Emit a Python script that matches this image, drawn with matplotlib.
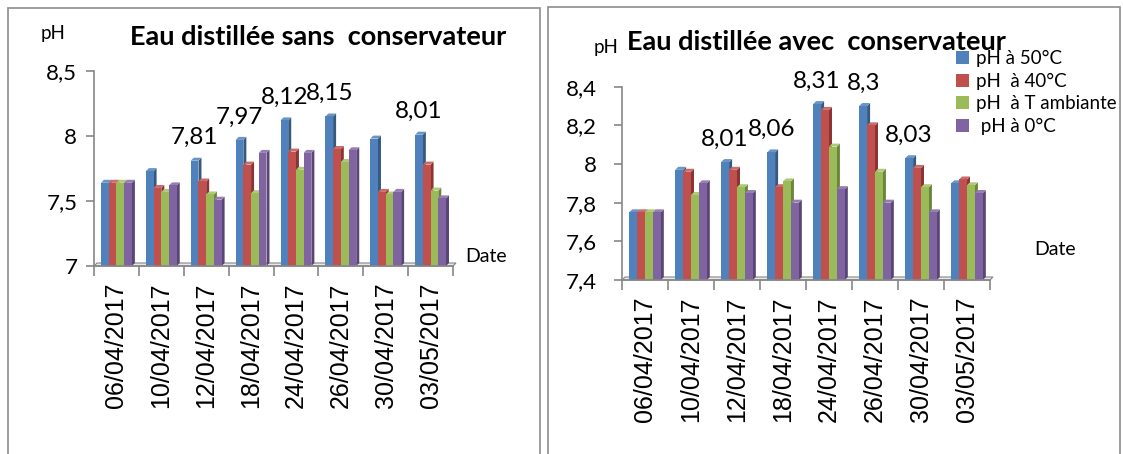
import matplotlib
matplotlib.use("Agg")
import matplotlib.pyplot as plt
from matplotlib.patches import Rectangle, Polygon, Patch
from matplotlib.ticker import FuncFormatter, FixedLocator

plt.rcParams["font.family"] = ["Lato", "DejaVu Sans"]

# ---- data ----------------------------------------------------------------
dates = ["06/04/2017", "10/04/2017", "12/04/2017", "18/04/2017",
         "24/04/2017", "26/04/2017", "30/04/2017", "03/05/2017"]
series_names = ["pH à 50°C", "pH  à 40°C", "pH  à T ambiante", " pH à 0°C"]

# distilled water without preservative
ph50_sans = [7.64, 7.73, 7.81, 7.97, 8.12, 8.15, 7.98, 8.01]
ph40_sans = [7.64, 7.60, 7.65, 7.78, 7.88, 7.90, 7.57, 7.78]
phT_sans = [7.64, 7.57, 7.55, 7.56, 7.74, 7.80, 7.55, 7.58]
ph0_sans = [7.64, 7.62, 7.51, 7.87, 7.87, 7.89, 7.57, 7.52]
labelled_sans = [2, 3, 4, 5, 7]          # groups whose 50°C bar carries its value

# distilled water with preservative
ph50_avec = [7.75, 7.97, 8.01, 8.06, 8.31, 8.30, 8.03, 7.90]
ph40_avec = [7.75, 7.96, 7.97, 7.88, 8.28, 8.20, 7.98, 7.92]
phT_avec = [7.75, 7.84, 7.88, 7.91, 8.09, 7.96, 7.88, 7.89]
ph0_avec = [7.75, 7.90, 7.85, 7.80, 7.87, 7.80, 7.75, 7.85]
labelled_avec = [2, 3, 4, 5, 6]

ticks_sans = [7, 7.5, 8, 8.5]
ticks_avec = [7.4, 7.6, 7.8, 8.0, 8.2, 8.4]

# ---- style ---------------------------------------------------------------
front = ["#4F81BD", "#C0504D", "#9BBB59", "#8064A2"]
side = ["#36597F", "#8A3533", "#6C853D", "#5A4676"]
top = ["#6A94C8", "#CD6B68", "#AECA76", "#957EB3"]
axis_grey = "#868686"

W, H = 1123, 454
fig = plt.figure(figsize=(W / 100, H / 100), dpi=100)


def fx(x):
    return x / W


def fy(y):
    return 1 - y / H


def comma(v, _pos=None):
    return f"{v:g}".replace(".", ",")


DEPTH_PX = 3.0
BAR_W = 0.172


def draw_panel(ax, series, ylim, yticks, labelled, label_fs):
    n = len(dates)
    ymin, ymax = ylim
    ax.set_xlim(-0.5, n - 0.5)
    ax.set_ylim(ymin, ymax)
    bbox = ax.get_position()
    ax_w_px = bbox.width * W
    ax_h_px = bbox.height * H
    dx = DEPTH_PX * n / ax_w_px
    dy = DEPTH_PX * (ymax - ymin) / ax_h_px

    # floor of the 3D box
    ax.add_patch(Polygon([(-0.5, ymin), (n - 0.5, ymin),
                          (n - 0.5 + dx, ymin + dy), (-0.5 + dx, ymin + dy)],
                         closed=True, facecolor="#E8E8E8", edgecolor=axis_grey,
                         lw=0.8, clip_on=False, zorder=1))

    offsets = [(k - 1.5) * BAR_W for k in range(4)]
    for i in range(n):
        for k, vals in enumerate(series):
            x0 = i + offsets[k] - BAR_W / 2
            h = vals[i]
            z = 2 + k * 0.01
            ax.add_patch(Polygon([(x0 + BAR_W, ymin), (x0 + BAR_W + dx, ymin + dy),
                                  (x0 + BAR_W + dx, h + dy), (x0 + BAR_W, h)],
                                 closed=True, facecolor=side[k], edgecolor="none",
                                 zorder=z, clip_on=False))
            ax.add_patch(Polygon([(x0, h), (x0 + dx, h + dy),
                                  (x0 + BAR_W + dx, h + dy), (x0 + BAR_W, h)],
                                 closed=True, facecolor=top[k], edgecolor="none",
                                 zorder=z, clip_on=False))
            ax.bar(x0, h - ymin, bottom=ymin, width=BAR_W, align="edge",
                   color=front[k], edgecolor="none", zorder=z)
    for i in labelled:
        v = series[0][i]
        xc = i + offsets[0]
        ax.annotate(comma(v), (xc, v), xytext=(0, 9), textcoords="offset points",
                    ha="center", va="bottom", fontsize=label_fs, color="black",
                    zorder=5, annotation_clip=False)

    for s in ("top", "right"):
        ax.spines[s].set_visible(False)
    for s in ("left", "bottom"):
        ax.spines[s].set_color(axis_grey)
        ax.spines[s].set_linewidth(1.2)
    ax.yaxis.set_major_locator(FixedLocator(yticks))
    ax.yaxis.set_major_formatter(FuncFormatter(comma))
    ax.tick_params(axis="y", length=6, width=1.2, color=axis_grey,
                   labelsize=16, pad=6)
    ax.set_xticks(range(n))
    ax.set_xticklabels(dates, rotation=90, fontsize=18,
                       fontfamily=["Liberation Sans", "DejaVu Sans"])
    ax.tick_params(axis="x", which="major", length=0, pad=12)
    ax.set_xticks([i - 0.5 for i in range(n + 1)], minor=True)
    ax.tick_params(axis="x", which="minor", length=7, width=1.2, color=axis_grey)
    ax.patch.set_alpha(0)


# left panel: without preservative
ax1 = fig.add_axes([fx(94), fy(266), fx(453) - fx(94), fy(71) - fy(266)])
draw_panel(ax1, [ph50_sans, ph40_sans, phT_sans, ph0_sans], (7, 8.5),
           ticks_sans, labelled_sans, 17.5)

# right panel: with preservative
ax2 = fig.add_axes([fx(622), fy(280), fx(990) - fx(622), fy(86.7) - fy(280)])
draw_panel(ax2, [ph50_avec, ph40_avec, phT_avec, ph0_avec], (7.4, 8.4),
           ticks_avec, labelled_avec, 17.5)
ax2.tick_params(axis="y", pad=12)

# panel frames
fig.add_artist(Rectangle((fx(8), fy(470)), fx(540) - fx(8), fy(8) - fy(470),
                         transform=fig.transFigure, fill=False,
                         edgecolor="#8C8C8C", lw=1.2))
fig.add_artist(Rectangle((fx(548), fy(470)), fx(1120) - fx(548), fy(7) - fy(470),
                         transform=fig.transFigure, fill=False,
                         edgecolor="#8C8C8C", lw=1.2))

# titles and axis captions
fig.text(fx(318), fy(45), "Eau distillée sans  conservateur", ha="center",
         va="baseline", fontsize=19.5, fontweight="bold")
fig.text(fx(816), fy(50), "Eau distillée avec  conservateur", ha="center",
         va="baseline", fontsize=19.5, fontweight="bold")
fig.text(fx(53), fy(39), "pH", ha="center", va="baseline", fontsize=13.5)
fig.text(fx(606), fy(53), "pH", ha="center", va="baseline", fontsize=13.5)
fig.text(fx(465), fy(262), "Date", ha="left", va="baseline", fontsize=14)
fig.text(fx(1034), fy(255), "Date", ha="left", va="baseline", fontsize=14)

handles = [Patch(facecolor=c, edgecolor="none") for c in front]
fig.legend(handles, series_names, loc="upper left",
           bbox_to_anchor=(fx(956), fy(50)), frameon=False, fontsize=13.5,
           handlelength=0.7, handleheight=0.7, handletextpad=0.35,
           labelspacing=0.3, borderpad=0, borderaxespad=0)

fig.savefig("out.png", dpi=100)
